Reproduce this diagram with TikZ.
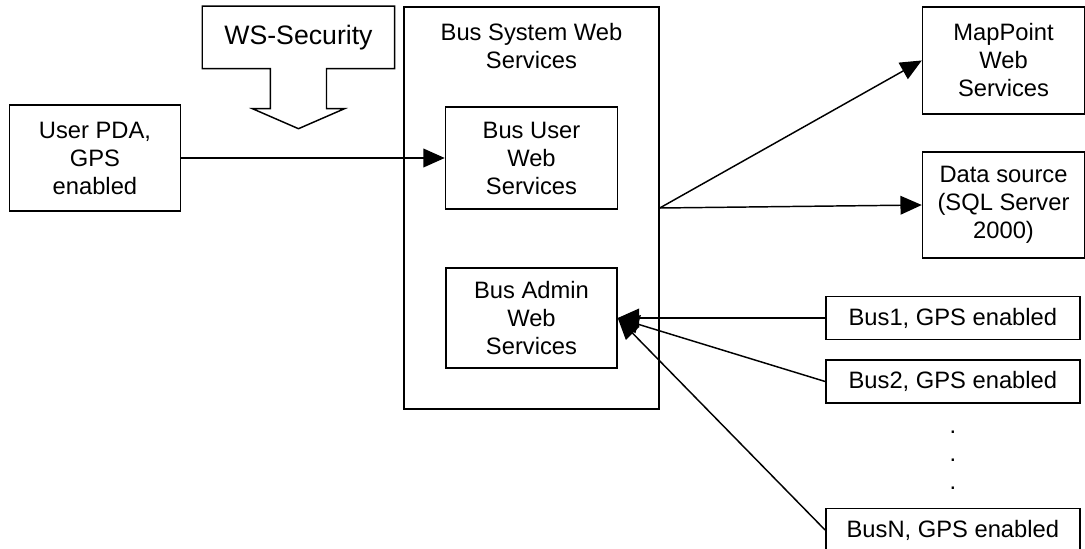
\documentclass[tikz,border=0pt]{standalone}
\usepackage{fontspec}
\setmainfont{Liberation Sans}
\usetikzlibrary{positioning, arrows.meta}

\begin{document}
\begin{tikzpicture}[node distance=4cm, on grid, line width=1.1pt,
    font=\fontsize{17.8pt}{21pt}\selectfont]
  \tikzstyle{box}=[draw, rectangle, align=center, inner sep=2pt]
  \tikzstyle{busbox}=[box, minimum width=190.5pt, minimum height=32.25pt]
  \useasboundingbox (-398.6pt,-255pt) rectangle (415.1pt,156pt);
  \node[box, minimum width=191.25pt, minimum height=301.5pt] (sys) at (0,0) {};
  \node[anchor=north, inner sep=0, align=center] (systitle)
    at ([yshift=-12pt]sys.north) {Bus System Web\\Services};
  \node[box, minimum width=129pt, minimum height=76.5pt, above=37.5pt of sys] (user) {Bus User\\Web\\Services};
  \node[box, minimum width=128.25pt, minimum height=75pt, below=82.5pt of sys] (admin) {Bus Admin\\Web\\Services};
  \node[box, minimum width=128.25pt, minimum height=79.5pt, left=327.4pt of user] (pda) {User PDA,\\GPS\\enabled};
  \node[box, minimum width=121.5pt, minimum height=79.5pt, above right=2.25pt and 354pt of sys] (data) {Data source\\(SQL Server\\2000)};
  \node[box, minimum width=121.5pt, minimum height=80.25pt, above=108.4pt of data] (map) {MapPoint\\Web\\Services};
  \node[busbox, right=316pt of admin] (bus1) {Bus1, GPS enabled};
  \node[busbox, below=47.6pt of bus1] (bus2) {Bus2, GPS enabled};
  \node[inner sep=0, align=center, below=59.25pt of bus2] (dots) {.\\.\\.};
  \node[busbox, below=111.4pt of bus2] (busN) {BusN, GPS enabled};
  % WS-Security callout with its arrow pointing down
  \node[minimum width=143.25pt, minimum height=45.75pt, font=\fontsize{20pt}{24pt}\selectfont,
    above left=127.9pt and 174.75pt of sys] (ws) {WS-Security};
  \draw (ws.north west) -- (ws.north east) -- (ws.south east)
    -- ([xshift=21pt]ws.south) -- ++(0,-30pt) -- ++(13.5pt,0)
    -- ([yshift=-45pt]ws.south) -- ([shift={(-34.5pt,-30pt)}]ws.south)
    -- ([shift={(-21pt,-30pt)}]ws.south) -- ([xshift=-21pt]ws.south)
    -- (ws.south west) -- cycle;
  \path [-{Triangle[length=16pt,width=14pt]}]
    (pda) edge (user)
    (sys.east) edge (map.west)
    (sys.east) edge (data.west)
    (bus1.west) edge (admin.east)
    (bus2.west) edge (admin.east)
    (busN.west) edge (admin.east)
    ;
\end{tikzpicture}
\end{document}
